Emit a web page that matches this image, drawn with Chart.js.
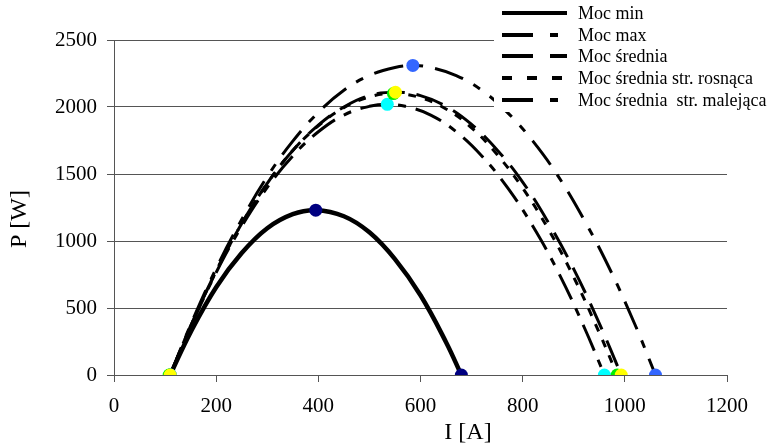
<!DOCTYPE html>
<html>
<head>
<meta charset="utf-8">
<script src="https://cdn.jsdelivr.net/npm/chart.js@4.4.1/dist/chart.umd.min.js"></script>
<style>
    html, body { margin: 0; padding: 0; background: #fff; }
    #wrap { width: 767px; height: 446px; }
</style>
</head>
<body>
<div id="wrap"><canvas id="chart" width="767" height="446"></canvas></div>
<script>
// Dane
const seriesNames = ['Moc min', 'Moc max', 'Moc średnia', 'Moc średnia str. rosnąca', 'Moc średnia  str. malejąca'];

const minI = [110, 150, 200, 250, 300, 350, 395, 450, 500, 550, 600, 650, 680];
const minP = [0, 320, 655, 910, 1095, 1200, 1230, 1185, 1065, 865, 595, 245, 0];

const maxI = [110, 150, 200, 250, 300, 350, 400, 450, 500, 550, 585, 620, 670, 720, 770, 820, 870, 920, 970, 1020, 1060];
const maxP = [0, 375, 795, 1160, 1480, 1745, 1960, 2125, 2235, 2295, 2310, 2295, 2235, 2125, 1960, 1745, 1480, 1160, 795, 375, 0];

const sredI = [110, 150, 200, 250, 300, 350, 400, 450, 500, 551, 600, 650, 700, 750, 800, 850, 900, 950, 993];
const sredP = [0, 365, 775, 1130, 1430, 1675, 1865, 2000, 2085, 2110, 2085, 2005, 1870, 1680, 1440, 1140, 790, 385, 0];

const rosI = [110, 150, 200, 250, 300, 350, 400, 450, 500, 547, 600, 650, 700, 750, 800, 850, 900, 950, 985];
const rosP = [0, 365, 775, 1130, 1430, 1675, 1860, 1995, 2075, 2100, 2070, 1985, 1845, 1645, 1395, 1090, 730, 315, 0];

const malI = [110, 150, 200, 250, 300, 350, 400, 450, 500, 535, 570, 620, 670, 720, 770, 820, 870, 920, 960];
const malP = [0, 360, 765, 1110, 1400, 1635, 1815, 1940, 2005, 2020, 2005, 1940, 1815, 1635, 1400, 1110, 765, 360, 0];

// punkty charakterystyczne (początek, maksimum, koniec)
const minPtsI = [110, 395, 680];   const minPtsP = [0, 1230, 0];
const maxPtsI = [110, 585, 1060];  const maxPtsP = [0, 2310, 0];
const sredPtsI = [110, 551, 993];  const sredPtsP = [0, 2110, 0];
const rosPtsI = [108, 547, 985];   const rosPtsP = [0, 2100, 0];
const malPtsI = [110, 535, 960];   const malPtsP = [0, 2020, 0];

const xTicks = [0, 200, 400, 600, 800, 1000, 1200];
const yTicks = [0, 500, 1000, 1500, 2000, 2500];

const xTitle = 'I [A]';
const yTitle = 'P [W]';

const FONT = '"Liberation Serif", "Times New Roman", serif';
const AXIS = '#555555';

function pts(xs, ys) {
    return xs.map((x, i) => ({ x: x, y: ys[i] }));
}

function curve(label, xs, ys, dash, width) {
    return {
        label: label,
        data: pts(xs, ys),
        showLine: true,
        borderColor: '#000',
        borderWidth: width,
        borderDash: dash,
        pointRadius: 0,
        tension: 0.4,
        fill: false,
        order: 10
    };
}

function markers(xs, ys, color, order) {
    return {
        label: '',
        data: pts(xs, ys),
        showLine: false,
        pointRadius: 6.5,
        pointBackgroundColor: color,
        pointBorderColor: color,
        pointBorderWidth: 0,
        order: order
    };
}

// legenda i tytuły osi rysowane ręcznie
const legendPlugin = {
    id: 'excelLegend',
    afterDraw(chart) {
        const c = chart.ctx;
        c.save();
        c.fillStyle = '#fff';
        c.fillRect(494, 0, 273, 112);

        const rowsY = [13, 35, 56, 78, 100];
        const samples = [
            [],
            [31, 17, 8, 100],
            [31, 17, 17, 100],
            [10, 15],
            [31, 17, 8, 100]
        ];
        c.strokeStyle = '#000';
        c.lineWidth = 4;
        c.fillStyle = '#000';
        c.font = '18px ' + FONT;
        c.textBaseline = 'middle';
        c.textAlign = 'left';
        seriesNames.forEach((name, i) => {
            c.setLineDash(samples[i]);
            c.beginPath();
            c.moveTo(502, rowsY[i]);
            c.lineTo(567, rowsY[i]);
            c.stroke();
            c.fillText(name, 578, rowsY[i] + 1);
        });
        c.setLineDash([]);

        // tytuły osi
        c.font = '24px ' + FONT;
        c.textAlign = 'center';
        c.fillText(xTitle, 468, 433);
        c.translate(20, 219);
        c.rotate(-Math.PI / 2);
        c.fillText(yTitle, 0, 0);
        c.restore();
    }
};

const ctx = document.getElementById('chart').getContext('2d');
const chart = new Chart(ctx, {
    type: 'scatter',
    data: {
        datasets: [
            markers(sredPtsI, sredPtsP, '#ffff00', 0),
            markers(rosPtsI, rosPtsP, '#00ee00', 1),
            markers(malPtsI, malPtsP, '#00ffff', 2),
            markers(maxPtsI, maxPtsP, '#3366ff', 3),
            markers(minPtsI, minPtsP, '#000080', 4),
            curve(seriesNames[0], minI, minP, [], 4.5),
            curve(seriesNames[1], maxI, maxP, [30, 12, 8, 12], 3),
            curve(seriesNames[2], sredI, sredP, [28, 12], 3),
            curve(seriesNames[3], rosI, rosP, [8, 9], 3),
            curve(seriesNames[4], malI, malP, [28, 10, 8, 10], 3)
        ]
    },
    options: {
        responsive: false,
        animation: false,
        devicePixelRatio: 1,
        layout: { padding: { top: 40, right: 40, left: 0, bottom: 0 } },
        plugins: {
            legend: { display: false },
            tooltip: { enabled: false }
        },
        scales: {
            x: {
                type: 'linear',
                min: xTicks[0],
                max: xTicks[xTicks.length - 1],
                ticks: {
                    stepSize: xTicks[1] - xTicks[0],
                    color: '#000',
                    font: { family: FONT, size: 21 },
                    padding: 12,
                    maxRotation: 0,
                    callback: v => String(v)
                },
                grid: {
                    drawOnChartArea: false,
                    drawTicks: true,
                    tickLength: 7,
                    color: AXIS
                },
                border: { display: true, color: AXIS, width: 1 },
                afterFit(scale) { scale.height = 71; }
            },
            y: {
                type: 'linear',
                min: yTicks[0],
                max: yTicks[yTicks.length - 1],
                ticks: {
                    stepSize: yTicks[1] - yTicks[0],
                    color: '#000',
                    font: { family: FONT, size: 21 },
                    padding: 10,
                    callback: v => String(v)
                },
                grid: {
                    drawOnChartArea: true,
                    drawTicks: true,
                    tickLength: 7,
                    color: AXIS
                },
                border: { display: true, color: AXIS, width: 1 },
                afterFit(scale) { scale.width = 114; }
            }
        }
    },
    plugins: [legendPlugin]
});
</script>
</body>
</html>
